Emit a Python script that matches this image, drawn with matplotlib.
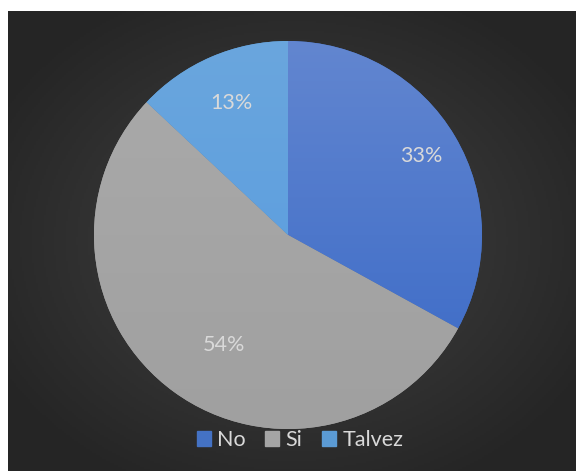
import numpy as np
import matplotlib.pyplot as plt
from matplotlib.colors import LinearSegmentedColormap, to_rgb

# Survey answers
categories = ["No", "Si", "Talvez"]
shares = [33, 54, 13]

# Slice fills: (top colour, bottom colour) for a vertical gradient
slice_grad = [("#6286d0", "#3868c6"), ("#aaaaaa", "#a0a0a0"), ("#6aa6dd", "#559ae0")]
legend_colors = ["#4472c4", "#a5a5a5", "#5b9bd5"]
text_color = "#d9d9d9"
label_dist = [0.80, 0.655, 0.74]
label_turn = [0, 6, 0]  # degrees, nudges a label along its slice

plt.rcParams["font.family"] = ["Lato", "DejaVu Sans"]

W, H = 576, 471
fig = plt.figure(figsize=(W / 100, H / 100), dpi=100, facecolor="white")

# Dark panel with a soft radial glow
bg = fig.add_axes([8 / W, 0, (W - 8) / W, (H - 11) / H])
bg.set_axis_off()
ny, nx = 230, 284
yy, xx = np.mgrid[0:1:ny * 1j, 0:1:nx * 1j]
r = np.sqrt(((xx - 0.5) / 0.6) ** 2 + ((yy - 0.5) / 0.6) ** 2)
inner, outer = np.array(to_rgb("#434343")), np.array(to_rgb("#252525"))
t = np.clip(r, 0, 1)[..., None]
img = inner * (1 - t) + outer * t
bg.imshow(img, extent=[0, 1, 0, 1], aspect="auto", origin="lower")
bg.set_xlim(0, 1)
bg.set_ylim(0, 1)

# Pie axes
cx, cy, rad = 288, H - 235, 194
ax = fig.add_axes([(cx - rad) / W, (cy - rad) / H, 2 * rad / W, 2 * rad / H])
ax.set_axis_off()
wedges, _ = ax.pie(shares, startangle=90, counterclock=False, radius=1,
                   colors=legend_colors, wedgeprops=dict(linewidth=0))
ax.set_xlim(-1, 1)
ax.set_ylim(-1, 1)
ax.set_aspect("equal")

gy = np.linspace(0, 1, 200)[:, None] * np.ones((1, 2))
for w, (top, bot) in zip(wedges, slice_grad):
    cmap = LinearSegmentedColormap.from_list("g", [bot, top])
    im = ax.imshow(gy, cmap=cmap, extent=[-1, 1, -1, 1], origin="lower",
                   aspect="auto", zorder=w.get_zorder() + 0.1)
    im.set_clip_path(w)

# Percentage labels
for w, val, d, turn in zip(wedges, shares, label_dist, label_turn):
    mid = np.deg2rad((w.theta1 + w.theta2) / 2 + turn)
    ax.text(d * np.cos(mid), d * np.sin(mid), f"{val}%", ha="center",
            va="center", color=text_color, fontsize=15.5, zorder=5)

# Legend
handles = [plt.Rectangle((0, 0), 1, 1, color=c) for c in legend_colors]
fig.legend(handles, categories, loc="center", bbox_to_anchor=(300 / W, 1 - 440 / H),
           ncol=3, frameon=False, fontsize=15.5, labelcolor=text_color,
           handlelength=0.65, handleheight=0.65, handletextpad=0.3,
           columnspacing=0.9)

fig.savefig("out.png", dpi=100, facecolor="white")
